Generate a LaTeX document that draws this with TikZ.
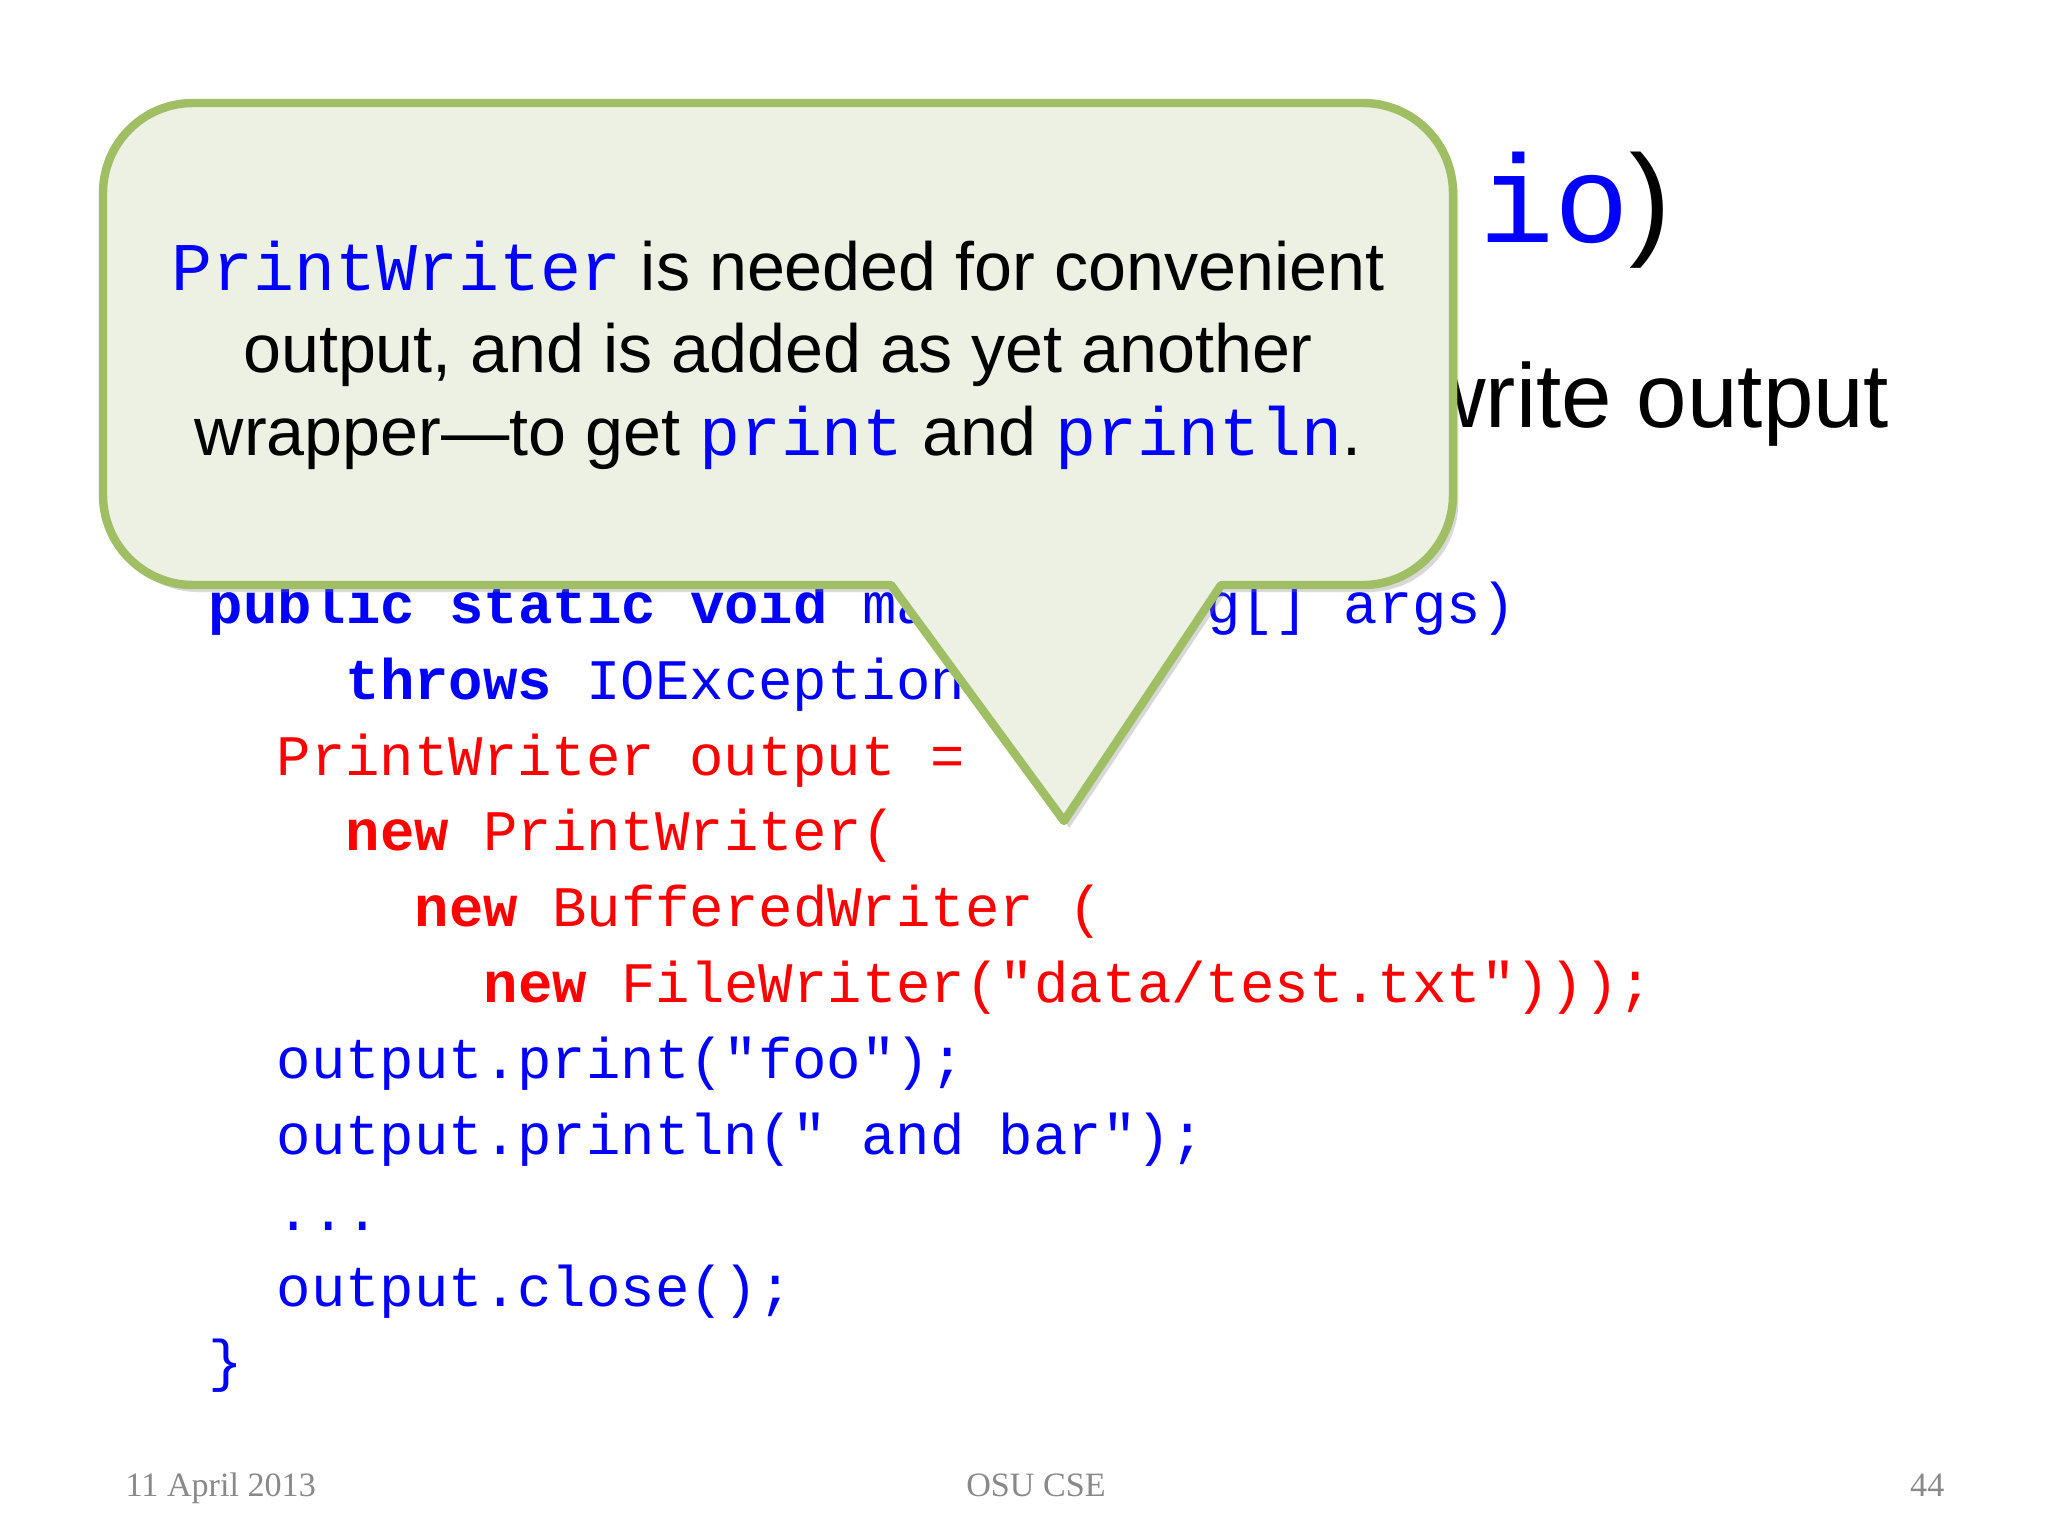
\documentclass[tikz,border=0pt]{standalone}
\usepackage{fontspec}
\setmainfont{Liberation Sans}
\setmonofont{Liberation Mono}
\newfontfamily\footfont{Liberation Serif}
\usetikzlibrary{shadows}
\definecolor{calloutfill}{RGB}{236,241,228}
\definecolor{calloutline}{RGB}{160,190,100}
\definecolor{codeblue}{RGB}{0,0,255}
\definecolor{codered}{RGB}{255,0,0}
\definecolor{footgray}{RGB}{137,137,137}
\newcommand{\kw}[1]{\textbf{#1}}
\newcommand{\jv}[1]{\texttt{\color{codeblue}#1}}

\begin{document}
\begin{tikzpicture}[x=0.01cm, y=-0.01cm,
  code/.style={anchor=base west, inner sep=0pt, font=\ttfamily\fontsize{16.3}{19}\selectfont},
  note/.style={anchor=base, inner sep=0pt, font=\fontsize{19.4}{23.3}\selectfont},
  foot/.style={inner sep=0pt, text=footgray, font=\footfont\fontsize{9.7}{11}\selectfont},
  callout/.style={draw=calloutline, fill=calloutfill, line width=2.4pt, line join=round,
    drop shadow={shadow xshift=1.5pt, shadow yshift=-2pt, opacity=0.3}}]
  \path[use as bounding box, fill=white] (0,0) rectangle (2048,1536);
  % title, mostly under the callout
  \node[anchor=base east, inner sep=0pt, font=\fontsize{35.5}{40}\selectfont] (title) at (1672,242) {\jv{io})};
  \node[anchor=base east, inner sep=0pt, font=\fontsize{25.8}{30}\selectfont] (sub) at (1890,427) {write output};
  % code
  \node[code, text=codeblue] (c0) at (208,623) {\kw{public static void} main(String[] args)};
  \node[code, text=codeblue] (c1) at (345,699) {\kw{throws} IOException \{};
  \node[code, text=codered] (c2) at (276,775) {PrintWriter output =};
  \node[code, text=codered] (c3) at (345,850) {\kw{new} PrintWriter(};
  \node[code, text=codered] (c4) at (414,926) {\kw{new} BufferedWriter (};
  \node[code, text=codered] (c5) at (483,1002) {\kw{new} FileWriter("data/test.txt")));};
  \node[code, text=codeblue] (c6) at (276,1078) {output.print("foo");};
  \node[code, text=codeblue] (c7) at (276,1154) {output.println(" and bar");};
  \node[code, text=codeblue] (c8) at (276,1230) {...};
  \node[code, text=codeblue] (c9) at (276,1306) {output.close();};
  \node[code, text=codeblue] (c10) at (208,1380) {\}};
  % callout
  \draw[callout] (1064,821) -- (891,585) [rounded corners=0.9cm] -- (103,585) -- (103,103)
    -- (1453,103) -- (1453,585) [sharp corners] -- (1221,585) -- cycle;
  \node[note] (n1) at (778,290) {\jv{PrintWriter} is needed for convenient};
  \node[note] (n2) at (778,372) {output, and is added as yet another};
  \node[note] (n3) at (778,455) {wrapper—to get \jv{print} and \jv{println}.};
  % footer
  \node[foot, anchor=base west] (date) at (125,1496) {11 April 2013};
  \node[foot, anchor=base] (org) at (1036,1496) {OSU CSE};
  \node[foot, anchor=base east] (page) at (1945,1496) {44};
\end{tikzpicture}
\end{document}
